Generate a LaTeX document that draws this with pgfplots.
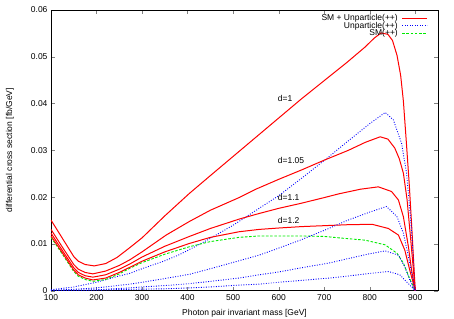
\documentclass[border=0pt]{standalone}
\usepackage{fontspec}
\setmainfont{Liberation Sans}
\usepackage{pgfplots}
\pgfplotsset{compat=1.18}
\definecolor{gred}{RGB}{255,0,0}
\definecolor{gblue}{RGB}{0,0,255}
\definecolor{ggreen}{RGB}{0,235,0}
\newcommand{\ff}{\fontsize{8.5}{9}\selectfont}
\newlength{\legw}
\begin{document}
\settowidth{\legw}{\ff SM + Unparticle(++)}%
\begin{tikzpicture}
\useasboundingbox (-51pt,-27.3pt) rectangle (403pt,290.7pt);
\begin{axis}[
  at={(0,0)}, anchor=south west,
  scale only axis, width=387pt, height=280.7pt,
  xmin=100, xmax=950, ymin=0, ymax=0.06,
  xtick={100,200,300,400,500,600,700,800,900},
  ytick={0,0.01,0.02,0.03,0.04,0.05,0.06},
  yticklabels={0,0.01,0.02,0.03,0.04,0.05,0.06},
  scaled y ticks=false,
  tick align=inside, tick pos=both,
  major tick length=4pt,
  /pgf/number format/assume math mode=true,
  tick label style={font=\ff},
  label style={font=\ff},
  xlabel={Photon pair invariant mass [GeV]},
  ylabel={differential cross section [fb/GeV]},
  xlabel style={at={(axis description cs:0.5,-0.0795)}, anchor=center},
  ylabel style={at={(axis description cs:-0.106,0.5)}, anchor=center},
  axis line style={line width=0.6pt},
  legend cell align=right,
  legend style={draw=none, fill=none, font=\ff, at={(rel axis cs:0.9018,0.992)}, anchor=north east, row sep=-2.2pt, inner sep=1pt, nodes={inner sep=1pt}, /tikz/every odd column/.style={column sep=0pt}, /tikz/every even column/.style={column sep=0pt}},
  legend image code/.code={\path (0pt,0pt); \draw[#1, overlay] (\legw+6pt,0pt) -- ++(25pt,0pt);},
  redl/.style={draw=gred, line width=1pt},
  bluel/.style={draw=gblue, line width=0.9pt, dash pattern=on 0.9pt off 1.6pt},
  greenl/.style={draw=ggreen, line width=0.9pt, dash pattern=on 2.6pt off 1.6pt},
]
% red d=1
\addplot[redl] coordinates {
(100,.0151)(125,.0112)(150,.0073)(160,.0063)(175,.0056)(195,.0053)(220,.0058)(245,.0071)(273,.0092)(300,.0113)(350,.0160)(404,.0208)(450,.0246)(500,.0287)(550,.0328)(600,.0369)(650,.0410)(700,.0449)(750,.0488)(790,.0521)(810,.0540)(825,.0551)(840,.0548)(850,.0535)(860,.0503)(868,.0460)(874,.0405)(881,.0310)(887,.0225)(893,.0125)(900,0)};
\addlegendentry{SM + Unparticle(++)}
% blue d=1
\addplot[bluel] coordinates {
(100,.0002)(150,.0008)(200,.0018)(244,.0030)(273,.0037)(300,.0047)(350,.0064)(382,.0077)(404,.0088)(426,.0099)(450,.0112)(500,.0140)(535,.0162)(557,.0176)(600,.0203)(650,.0240)(710,.0286)(750,.0318)(800,.0357)(834,.0381)(852,.0365)(870,.0315)(881,.0251)(891,.0140)(900,0)};
\addlegendentry{Unparticle(++)}
% green SM
\addplot[greenl] coordinates {
(100,.0114)(125,.0078)(150,.0041)(160,.0031)(175,.0024)(192,.0020)(220,.0024)(250,.0036)(273,.0048)(300,.0060)(350,.0078)(404,.0094)(450,.0105)(513,.0114)(557,.0117)(600,.0117)(650,.0117)(700,.0116)(732,.0113)(790,.0108)(834,.0098)(860,.0080)(874,.0059)(886,.0030)(900,0)};
\addlegendentry{SM(++)}
% red d=1.05
\addplot[redl, forget plot] coordinates {
(100,.0131)(125,.0093)(150,.0056)(160,.0046)(175,.0039)(192,.0036)(220,.0042)(250,.0054)(273,.0066)(300,.0083)(353,.0119)(404,.0148)(450,.0172)(513,.0199)(550,.0217)(600,.0238)(650,.0258)(700,.0279)(753,.0300)(790,.0317)(823,.0329)(840,.0324)(855,.0305)(865,.0282)(874,.0251)(882,.0195)(890,.0110)(900,0)};
% red d=1.1
\addplot[redl, forget plot] coordinates {
(100,.0123)(125,.0086)(150,.0049)(160,.0039)(175,.0032)(192,.0029)(220,.0034)(250,.0046)(273,.0057)(300,.0072)(350,.0095)(404,.0116)(450,.0133)(513,.0153)(557,.0165)(600,.0176)(650,.0187)(700,.0199)(732,.0207)(780,.0217)(819,.0222)(848,.0212)(863,.0194)(874,.0158)(885,.0094)(892,.0044)(900,0)};
% red d=1.2
\addplot[redl, forget plot] coordinates {
(100,.0117)(125,.0081)(150,.0044)(160,.0034)(175,.0027)(192,.0023)(220,.0027)(250,.0039)(273,.0050)(300,.0063)(350,.0083)(404,.0101)(450,.0114)(513,.0126)(557,.0131)(600,.0134)(650,.0137)(700,.0139)(750,.0141)(805,.0142)(841,.0133)(863,.0119)(877,.0087)(888,.0044)(900,0)};
% blue d=1.05
\addplot[bluel, forget plot] coordinates {
(100,.0001)(150,.0003)(200,.0006)(273,.0014)(300,.0018)(350,.0026)(404,.0035)(450,.0047)(513,.0064)(557,.0076)(600,.0091)(650,.0109)(710,.0133)(750,.0150)(800,.0168)(837,.0180)(860,.0158)(874,.0123)(885,.0073)(900,0)};
% blue d=1.1
\addplot[bluel, forget plot] coordinates {
(100,0)(150,.0001)(200,.0002)(273,.0006)(300,.0008)(350,.0011)(404,.0015)(450,.0020)(513,.0027)(557,.0034)(600,.0040)(650,.0049)(710,.0059)(750,.0068)(800,.0079)(834,.0085)(863,.0076)(877,.0051)(888,.0023)(900,0)};
% blue d=1.2
\addplot[bluel, forget plot] coordinates {
(100,0)(200,.0001)(273,.0003)(350,.0004)(404,.0006)(450,.0008)(513,.0012)(557,.0014)(600,.0018)(650,.0022)(710,.0027)(750,.0031)(800,.0037)(841,.0041)(866,.0034)(881,.0019)(900,0)};
\node[font=\ff, anchor=west, inner sep=0pt] at (axis cs:598,0.0411) {d=1};
\node[font=\ff, anchor=west, inner sep=0pt] at (axis cs:598,0.0278) {d=1.05};
\node[font=\ff, anchor=west, inner sep=0pt] at (axis cs:598,0.0199) {d=1.1};
\node[font=\ff, anchor=west, inner sep=0pt] at (axis cs:598,0.0150) {d=1.2};
\end{axis}
\end{tikzpicture}
\end{document}
